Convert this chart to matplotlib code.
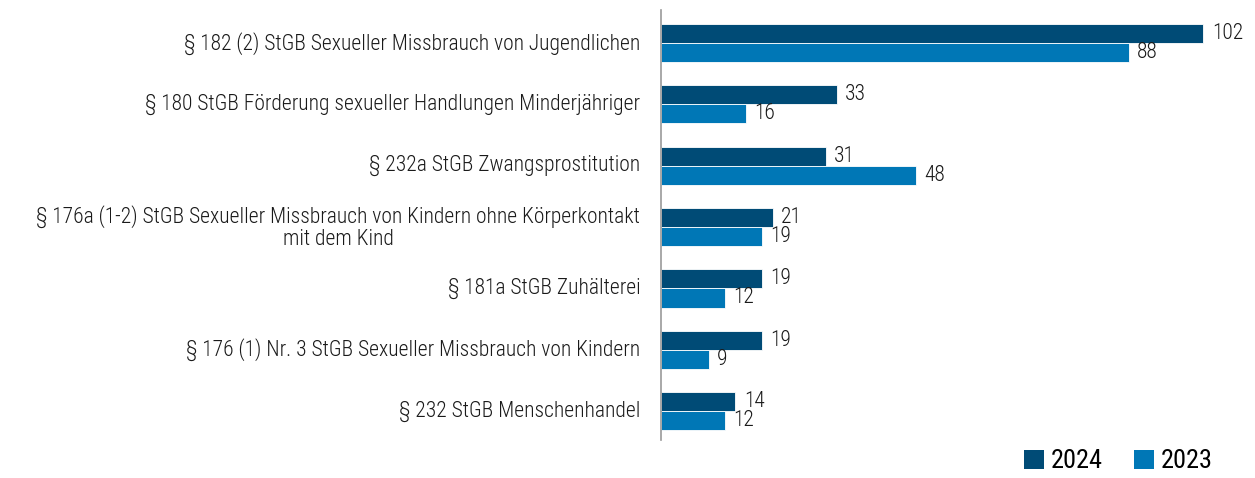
import matplotlib
matplotlib.use("Agg")
import matplotlib.pyplot as plt
from matplotlib.patches import Patch
import numpy as np

categories = [
    "§ 182 (2) StGB Sexueller Missbrauch von Jugendlichen",
    "§ 180 StGB Förderung sexueller Handlungen Minderjähriger",
    "§ 232a StGB Zwangsprostitution",
    "§ 176a (1-2) StGB Sexueller Missbrauch von Kindern ohne Körperkontakt\nmit dem Kind",
    "§ 181a StGB Zuhälterei",
    "§ 176 (1) Nr. 3 StGB Sexueller Missbrauch von Kindern",
    "§ 232 StGB Menschenhandel",
]
values_2024 = [102, 33, 31, 21, 19, 19, 14]
values_2023 = [88, 16, 48, 19, 12, 9, 12]
series_labels = ["2024", "2023"]

c2024 = "#004b76"
c2023 = "#0077b6"
tc = "#1a1a1a"

plt.rcParams['font.family'] = ['Roboto Condensed', 'DejaVu Sans']
plt.rcParams['font.weight'] = 'light'

fig = plt.figure(figsize=(12.55, 4.78), dpi=100)
ax = fig.add_axes([661/1255, 1 - 440/478, (1246-661)/1255, 430/478])

y = np.arange(len(categories))
h = 0.31
b1 = ax.barh(y - h/2, values_2024, height=h, color=c2024, edgecolor="white", linewidth=0.6)
b2 = ax.barh(y + h/2, values_2023, height=h, color=c2023, edgecolor="white", linewidth=0.6)

for bars, vals in ((b1, values_2024), (b2, values_2023)):
    for rect, v in zip(bars, vals):
        ax.annotate(str(v), xy=(rect.get_width(), rect.get_y() + rect.get_height()/2),
                    xytext=(6, 0), textcoords="offset points",
                    va="center", ha="left", fontsize=15.5, color=tc)

ax.set_xlim(0, 110)
ax.set_ylim(len(categories) - 0.53, -0.54)
ax.set_yticks([])
ax.set_xticks([])
for s in ["top", "right", "bottom"]:
    ax.spines[s].set_visible(False)
ax.spines["left"].set_color("#999999")
ax.spines["left"].set_linewidth(1.2)

for yi, lab in zip(y, categories):
    ax.annotate(lab, xy=(0, yi), xycoords=("axes fraction", "data"),
                xytext=(-15, 0), textcoords="offset points",
                ha="right", va="center", fontsize=15.5, color=tc,
                multialignment="center", linespacing=1.05)

handles = [Patch(facecolor=c2024, label=series_labels[0]),
           Patch(facecolor=c2023, label=series_labels[1])]
fig.legend(handles=handles, loc="lower right", bbox_to_anchor=(0.985, -0.04), ncol=2,
           frameon=False, fontsize=19, handlelength=0.75, handleheight=0.75,
           handletextpad=0.25, columnspacing=1.2, prop={'size': 19, 'weight': 'normal'})

fig.savefig("out.png", dpi=100)
